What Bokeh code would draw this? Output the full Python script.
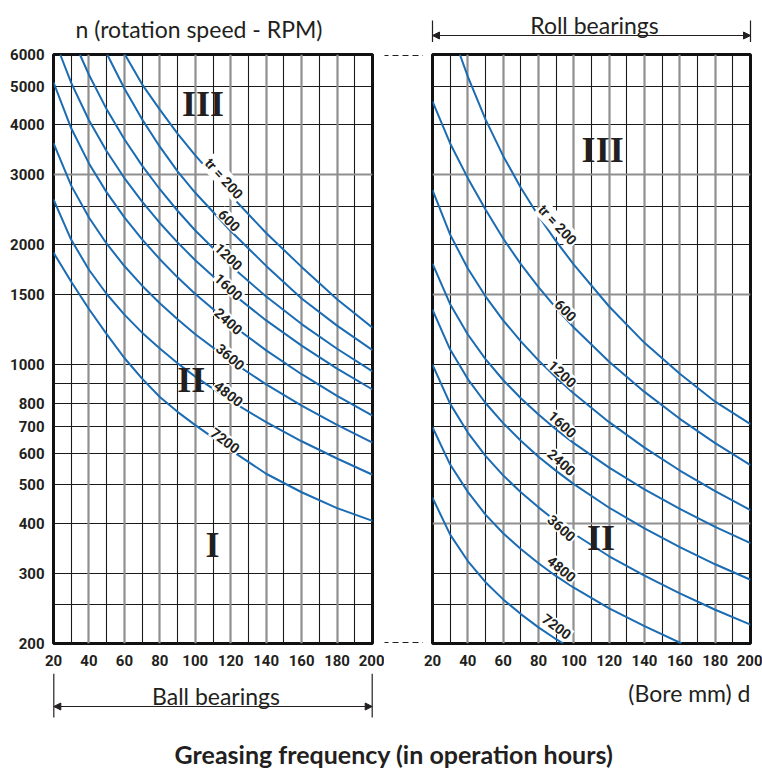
import math
from bokeh.plotting import figure
from bokeh.models import (Range1d, FixedTicker, Grid, Label, Arrow, NormalHead,
                          ColumnDataSource, NumeralTickFormatter)
from bokeh.layouts import row, column
from bokeh.embed import file_html
from bokeh.resources import INLINE
from bokeh.core.properties import value

# ---------------- data ----------------
x_ticks = [20, 40, 60, 80, 100, 120, 140, 160, 180, 200]
y_ticks = [200, 300, 400, 500, 600, 700, 800, 1000, 1500, 2000, 3000, 4000, 5000, 6000]
x_grid_dark = [30, 50, 70, 90, 110, 130, 150, 170, 190]
x_grid_light = [40, 60, 80, 100, 120, 140, 160, 180]
y_grid_dark_ball = [250, 300, 400, 500, 600, 700, 800, 900, 1000, 1500, 2000, 2500, 4000, 5000]
y_grid_light_ball = [3000]
y_grid_dark_roll = [250, 300, 500, 600, 700, 800, 900, 1000, 2000, 2500, 4000, 5000]
y_grid_light_roll = [400, 1500, 3000]

curve_names = ["tr = 200", "600", "1200", "1600", "2400", "3600", "4800", "7200"]

# Ball bearings (left panel): bore d (mm) -> speed n (RPM)
ball_d_200 = [60.3, 70, 80, 90, 100, 120, 140, 160, 180, 200]
ball_n_200 = [6000, 5050, 4365, 3800, 3350, 2660, 2140, 1760, 1460, 1239]
ball_d_600 = [50.3, 60, 70, 80, 90, 100, 120, 140, 160, 180, 200]
ball_n_600 = [6000, 4930, 4126, 3523, 3055, 2700, 2165, 1770, 1467, 1254, 1088]
ball_d_1200 = [34.9, 40, 50, 60, 70, 80, 90, 100, 120, 140, 160, 180, 200]
ball_n_1200 = [6000, 5338, 4371, 3679, 3159, 2756, 2434, 2172, 1772, 1483, 1265, 1097, 963]
ball_d_1600 = [23.8, 30, 40, 50, 60, 70, 80, 90, 100, 120, 140, 160, 180, 200]
ball_n_1600 = [6000, 5095, 4104, 3432, 2940, 2565, 2268, 2028, 1829, 1520, 1292, 1117, 978, 867]
ball_d_std = [20, 30, 40, 50, 60, 70, 80, 90, 100, 120, 140, 160, 180, 200]
ball_n_2400 = [5110, 3918, 3199, 2706, 2343, 2063, 1840, 1657, 1505, 1266, 1087, 947, 836, 746]
ball_n_3600 = [3597, 2814, 2340, 2012, 1769, 1579, 1426, 1300, 1193, 1023, 893, 790, 707, 638]
ball_n_4800 = [2597, 2058, 1731, 1505, 1336, 1204, 1098, 1009, 934, 812, 718, 643, 582, 530]
ball_n_7200 = [1911, 1615, 1380, 1194, 1040, 923, 830, 762, 706, 611, 533, 479, 437, 406]

# Roll bearings (right panel)
roll_d_200 = [35.5, 40, 50, 60, 70, 80, 90, 100, 120, 140, 160, 180, 200]
roll_n_200 = [6000, 5283, 4125, 3341, 2780, 2361, 2039, 1784, 1400, 1135, 950, 808, 710]
roll_d_std = [20, 30, 40, 50, 60, 70, 80, 90, 100, 120, 140, 160, 180, 200]
roll_n_600 = [4575, 3590, 2938, 2451, 2073, 1788, 1565, 1387, 1240, 1018, 855, 732, 636, 560]
roll_n_1200 = [2742, 2120, 1743, 1485, 1293, 1145, 1026, 929, 847, 718, 620, 543, 482, 432]
roll_n_1600 = [1794, 1419, 1191, 1033, 916, 824, 750, 688, 636, 552, 487, 435, 392, 357]
roll_n_2400 = [1375, 1092, 921, 802, 714, 645, 588, 542, 502, 438, 389, 349, 316, 289]
roll_n_3600 = [1000, 798, 676, 591, 528, 479, 439, 405, 377, 331, 296, 267, 243, 223]
roll_d_4800 = [20, 30, 40, 50, 60, 70, 80, 90, 100, 120, 140, 161]
roll_n_4800 = [697, 562, 480, 421, 378, 345, 318, 295, 276, 245, 221, 200]
roll_d_7200 = [20, 30, 40, 50, 60, 70, 80, 90, 94]
roll_n_7200 = [464, 375, 322, 285, 258, 237, 219.5, 205, 200]

# curve label anchors
ball_label_d = [116.2, 119.3, 118.9, 118.9, 118.9, 119.9, 118.9, 117.0]
ball_label_n = [2931, 2305, 1870, 1570, 1288, 1048, 847, 647]
roll_label_d = [90.8, 95.5, 93.6, 93.6, 93.2, 93.2, 93.2, 90.4]
roll_label_n = [2243, 1371, 950, 710, 570, 390, 308, 221]

# zone numerals
ball_zone_text = ["III", "II", "I"]
ball_zone_d = [104.3, 97.7, 109.7]
ball_zone_n = [4520, 916, 353]
roll_zone_text = ["III", "II"]
roll_zone_d = [116.3, 115.4]
roll_zone_n = [3463, 368]

# ---------------- styles / layout ----------------
BLUE = "#1b6cb3"
INK = "#231f20"
NUM = "Roboto"
SANS = "Lato"
ball_label_angle = [48, 45, 44, 43, 42, 41, 38, 37]
roll_label_angle = [47, 45, 43, 43, 42, 42, 40, 37]

TOP_H = 42
MID_H = 631
BOT_H = 96
FRAME_TOP = 12
FRAME_BOTTOM = 30
FRAME_H = MID_H - FRAME_TOP - FRAME_BOTTOM   # 589
W1, WG, W2 = 384, 39, 339


def make_panel(width, bl, br, show_y, dark_y, light_y):
    p = figure(width=width, height=MID_H, x_range=Range1d(20, 200),
               y_range=Range1d(200, 6000), y_axis_type="log",
               output_backend="svg", toolbar_location=None, title=None,
               min_border_left=bl, min_border_right=br,
               min_border_top=FRAME_TOP, min_border_bottom=FRAME_BOTTOM)
    p.background_fill_color = "white"
    p.border_fill_color = "white"
    p.outline_line_color = "#111111"
    p.outline_line_width = 3

    p.xaxis.ticker = FixedTicker(ticks=x_ticks)
    p.yaxis.ticker = FixedTicker(ticks=y_ticks)
    p.yaxis.formatter = NumeralTickFormatter(format="0")
    p.xaxis.formatter = NumeralTickFormatter(format="0")
    for ax in p.axis:
        ax.axis_line_color = None
        ax.major_tick_line_color = None
        ax.minor_tick_line_color = None
        ax.major_tick_out = 0
        ax.major_tick_in = 0
        ax.major_label_text_font = NUM
        ax.major_label_text_font_size = "15px"
        ax.major_label_text_font_style = "bold"
        ax.major_label_text_color = INK
    p.xaxis.major_label_standoff = 11
    p.yaxis.major_label_standoff = 9
    if not show_y:
        p.yaxis.visible = False

    p.xgrid.ticker = FixedTicker(ticks=x_grid_dark)
    p.xgrid.grid_line_color = "#1a1a1a"
    p.xgrid.grid_line_width = 1.1
    p.ygrid.ticker = FixedTicker(ticks=dark_y)
    p.ygrid.grid_line_color = "#1a1a1a"
    p.ygrid.grid_line_width = 1.1
    p.add_layout(Grid(dimension=0, ticker=FixedTicker(ticks=x_grid_light),
                      grid_line_color="#8f8f8f", grid_line_width=2.2))
    p.add_layout(Grid(dimension=1, ticker=FixedTicker(ticks=light_y),
                      grid_line_color="#8f8f8f", grid_line_width=2.2))
    return p


def add_labels(p, ds, ns, angles, zt, zd, zn):
    src = ColumnDataSource(dict(x=ds, y=ns, text=curve_names,
                                angle=[-a * math.pi / 180 for a in angles]))
    p.text(x="x", y="y", text="text", angle="angle", source=src,
           text_align="center", text_baseline="middle",
           text_font=value(NUM), text_font_size="14px", text_font_style="bold",
           text_color=INK, background_fill_color="white", padding=1)
    zsrc = ColumnDataSource(dict(x=zd, y=zn, text=zt))
    p.text(x="x", y="y", text="text", source=zsrc, text_align="center",
           text_baseline="middle", text_font=value("serif"),
           text_font_size="36px", text_font_style="bold", text_color=INK)


def seg(p, x0, y0, x1, y1, dash="solid", heads=False, width=1.2):
    kw = {}
    if heads:
        kw["start"] = NormalHead(size=7, fill_color=INK, line_color=INK, line_width=1)
        kw["end"] = NormalHead(size=7, fill_color=INK, line_color=INK, line_width=1)
    else:
        kw["start"] = None
        kw["end"] = None
    p.add_layout(Arrow(x_start=x0, y_start=y0, x_end=x1, y_end=y1,
                       start_units="screen", end_units="screen",
                       line_color=INK, line_width=width, line_dash=dash, **kw))


def strip(width, height):
    s = figure(width=width, height=height, x_range=Range1d(0, 1), y_range=Range1d(0, 1),
               output_backend="svg", toolbar_location=None, title=None,
               x_axis_location=None, y_axis_location=None, min_border=0)
    s.outline_line_color = None
    s.grid.visible = False
    s.background_fill_color = "white"
    s.border_fill_color = "white"
    return s


def txt(p, x, y, text, align="center", size="23px", style="normal"):
    p.add_layout(Label(x=x, y=y, x_units="screen", y_units="screen", text=text,
                       text_align=align, text_baseline="middle", text_font=SANS,
                       text_font_size=size, text_font_style=style, text_color=INK))


# ---------------- left panel ----------------
p1 = make_panel(W1, 53, 12, True, y_grid_dark_ball, y_grid_light_ball)
p1.line(ball_d_200, ball_n_200, line_color=BLUE, line_width=2)
p1.line(ball_d_600, ball_n_600, line_color=BLUE, line_width=2)
p1.line(ball_d_1200, ball_n_1200, line_color=BLUE, line_width=2)
p1.line(ball_d_1600, ball_n_1600, line_color=BLUE, line_width=2)
p1.line(ball_d_std, ball_n_2400, line_color=BLUE, line_width=2)
p1.line(ball_d_std, ball_n_3600, line_color=BLUE, line_width=2)
p1.line(ball_d_std, ball_n_4800, line_color=BLUE, line_width=2)
p1.line(ball_d_std, ball_n_7200, line_color=BLUE, line_width=2)
add_labels(p1, ball_label_d, ball_label_n, ball_label_angle,
           ball_zone_text, ball_zone_d, ball_zone_n)

# ---------------- gap with dashed connectors (frame aligned with panels) ----------------
pg = figure(width=WG, height=MID_H, x_range=Range1d(0, 1), y_range=Range1d(0, 1),
            output_backend="svg", toolbar_location=None, title=None,
            x_axis_location=None, y_axis_location=None,
            min_border_left=0, min_border_right=0,
            min_border_top=FRAME_TOP, min_border_bottom=FRAME_BOTTOM)
pg.outline_line_color = None
pg.grid.visible = False
pg.background_fill_color = "white"
seg(pg, -2, FRAME_H - 1, WG + 2, FRAME_H - 1, dash="6 4", width=1.2)
seg(pg, -2, 1, WG + 2, 1, dash="6 4", width=1.2)

# ---------------- right panel ----------------
p2 = make_panel(W2, 9, 12, False, y_grid_dark_roll, y_grid_light_roll)
p2.line(roll_d_200, roll_n_200, line_color=BLUE, line_width=2)
p2.line(roll_d_std, roll_n_600, line_color=BLUE, line_width=2)
p2.line(roll_d_std, roll_n_1200, line_color=BLUE, line_width=2)
p2.line(roll_d_std, roll_n_1600, line_color=BLUE, line_width=2)
p2.line(roll_d_std, roll_n_2400, line_color=BLUE, line_width=2)
p2.line(roll_d_std, roll_n_3600, line_color=BLUE, line_width=2)
p2.line(roll_d_4800, roll_n_4800, line_color=BLUE, line_width=2)
p2.line(roll_d_7200, roll_n_7200, line_color=BLUE, line_width=2)
add_labels(p2, roll_label_d, roll_label_n, roll_label_angle,
           roll_zone_text, roll_zone_d, roll_zone_n)

# ---------------- top strip (page y -> TOP_H - y) ----------------
pt = strip(762, TOP_H)
txt(pt, 198.5, TOP_H - 28, "n (rotation speed - RPM)")
txt(pt, 594, TOP_H - 24, "Roll bearings")
seg(pt, 432, TOP_H - 35, 750, TOP_H - 35, heads=True)
seg(pt, 432, TOP_H - 20, 432, 0)
seg(pt, 750, TOP_H - 20, 750, 0)

# ---------------- bottom strip (page y -> 769 - y) ----------------
pb = strip(762, BOT_H)
txt(pb, 215.5, 769 - 695, "Ball bearings")
seg(pb, 53.3, 769 - 706, 371.7, 769 - 706, heads=True)
seg(pb, 53.3, BOT_H, 53.3, 769 - 717)
seg(pb, 371.7, BOT_H, 371.7, 769 - 717)
txt(pb, 750, 769 - 692, "(Bore mm) d", align="right")
txt(pb, 393.5, 769 - 753, "Greasing frequency (in operation hours)",
    size="25px", style="bold")

layout = column(pt, row(p1, pg, p2, spacing=0), pb, spacing=0)
open("out.html", "w").write(file_html(layout, INLINE))
